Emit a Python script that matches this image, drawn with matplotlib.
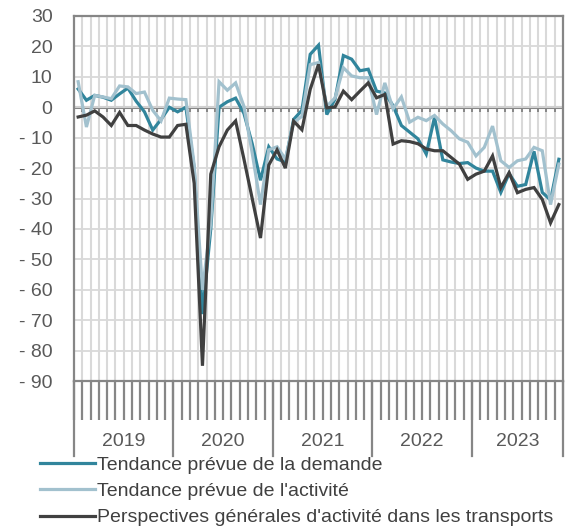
import matplotlib.pyplot as plt
import numpy as np
from matplotlib.lines import Line2D

plt.rcParams['font.family'] = ['Liberation Sans', 'DejaVu Sans']

years = ['2019', '2020', '2021', '2022', '2023']
months_per_year = [12, 12, 12, 12, 11]

# monthly balances, Jan 2019 - Nov 2023
demande = [6, 2.3, 3.9, 3.3, 2.3, 4.4, 6.3, 2, -1.5, -7.5, -4, 0,
           -1.5, 0, -20, -68, -40, 0, 1.8, 3, -2, -12, -24, -13,
           -17, -18, -4, -1, 17.4, 20.4, -2.4, 2.7, 17, 15.8, 12, 12.5,
           5.3, 4.7, 0.5, -6, -8.2, -10.4, -15.4, -3.3, -17.3, -18, -18.5, -18.2,
           -20, -21, -21, -28, -21.8, -26, -25.4, -14.5, -28, -30.5, -17.1]
activite = [8.4, -6.5, 3.9, 3.4, 2.8, 7, 6.7, 4.5, 5, -1, -4.5, 3,
            2.7, 2.5, -19, -60, -38, 8.4, 5.6, 8, 0.3, -15, -32, -14,
            -13, -17, -5, -3, 14, 14.7, 0.3, 3.1, 13, 10.3, 9.7, 9.7,
            -2.4, 8, -0.5, 3.4, -4.9, -3.3, -4.4, -2.7, -5.5, -7.7, -10.4, -11.5,
            -16, -13.2, -6.2, -17.6, -19.8, -17.6, -17, -13.2, -14.3, -32, -18.7]
transports = [-3.2, -2.6, -1.2, -3.2, -6, -1.7, -6, -6, -7.5, -8.8, -9.8, -9.8,
              -6, -5.6, -25, -85, -22, -13, -7.5, -4.5, -17, -30, -43, -19,
              -14, -20, -4.6, -7.4, 5.9, 14.1, -0.2, 0.1, 5.3, 2.5, 5.3, 8,
              3.1, 4.2, -12.1, -11, -11.3, -12, -13.7, -14.3, -14.3, -16.5, -18.7, -23.7,
              -22, -21, -16, -26.4, -21.5, -28.1, -27, -26.4, -30.3, -38, -32]

labels = ['Tendance prévue de la demande',
          "Tendance prévue de l'activité",
          "Perspectives générales d'activité dans les transports"]
colors = ['#31859c', '#a2c1ce', '#404040']

grey = '#868686'
text_grey = '#595959'

fig = plt.figure(figsize=(5.69, 5.28), dpi=100)
ax = fig.add_axes([74 / 569, 1 - 381 / 528, 489 / 569, 365 / 528])

x = np.arange(len(demande))
bounds = np.arange(len(demande) + 1) - 0.5

ax.set_xlim(bounds[0], bounds[-1])
ax.set_ylim(-90, 30)

yt = list(range(-90, 31, 10))
ax.set_yticks(yt)
ax.set_yticklabels([('- %d' % -v) if v < 0 else str(v) for v in yt])
ax.grid(axis='y', color='#d9d9d9', lw=1.3, zorder=0)
for b in bounds[1:-1]:
    ax.axvline(b, color='#d9d9d9', lw=1.5, zorder=0)

ax.axhline(0, color=grey, lw=2.2, zorder=1)
ax.vlines(bounds, -1.6, 0, color=grey, lw=1.4, zorder=1)

for series, c in zip([demande, activite, transports], colors):
    ax.plot(x, series, color=c, lw=2.3, zorder=3, solid_joinstyle='miter')

ax.set_xticks(bounds)
ax.set_xticklabels([])
ax.tick_params(axis='x', length=28, width=1.6, color=grey)
ax.tick_params(axis='y', length=0, labelsize=14, labelcolor=text_grey, pad=15.5)
for s in ax.spines.values():
    s.set_color(grey)
    s.set_linewidth(1.6)

# year level of the category axis
trans = ax.get_xaxis_transform()
edges = np.concatenate([[0], np.cumsum(months_per_year)]) - 0.5
for e in edges:
    ax.plot([e, e], [0, -0.205], color=grey, lw=1.6, transform=trans, clip_on=False)
for i, yr in enumerate(years):
    ax.text((edges[i] + edges[i + 1]) / 2, -0.165, yr, transform=trans,
            ha='center', va='center', fontsize=14, color=text_grey)

handles = [Line2D([], [], color=c, lw=2.3) for c in colors]
fig.legend(handles, labels, loc='upper left', bbox_to_anchor=(0.07, 1 - 456 / 528),
           frameon=False, fontsize=14, handlelength=2.85, handletextpad=0.1,
           labelspacing=0.45, borderpad=0, borderaxespad=0, labelcolor='#404040')

fig.savefig('out.png', dpi=100)
